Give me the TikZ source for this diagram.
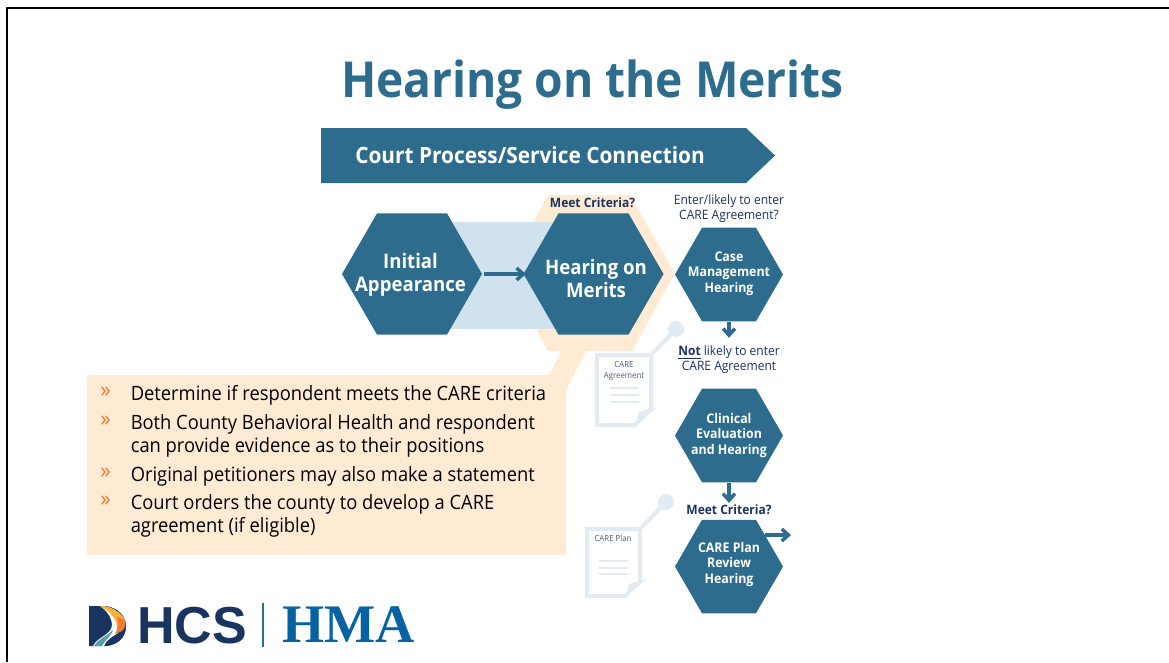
\documentclass[tikz,border=0pt]{standalone}
\usepackage{fontspec}
\setmainfont{Open Sans}[FakeStretch=0.93]
\newfontfamily\logoserif{Liberation Serif}
\newfontfamily\logosans{Liberation Sans}
\usetikzlibrary{arrows.meta,shapes.geometric,positioning}
\definecolor{hmateal}{RGB}{45,108,141}
\definecolor{hmalightblue}{RGB}{207,226,238}
\definecolor{hmapeach}{RGB}{255,235,211}
\definecolor{hmanavy}{RGB}{26,52,96}
\definecolor{hmaorange}{RGB}{237,125,49}
\definecolor{hmayellow}{RGB}{249,178,51}
\definecolor{hmadoc}{RGB}{227,235,242}
\definecolor{hmablue}{RGB}{5,99,164}
\definecolor{hmaswoosh}{RGB}{90,160,175}
\tikzset{
  hexbig/.style={regular polygon, regular polygon sides=6, fill=hmateal, minimum size=105pt, inner sep=0pt},
  hexsmall/.style={regular polygon, regular polygon sides=6, fill=hmateal, minimum size=81pt, inner sep=0pt},
  bigtext/.style={text=white, font=\bfseries\fontsize{15}{17.5}\selectfont, align=center, inner sep=0pt},
  smalltext/.style={text=white, font=\bfseries\fontsize{10}{11.7}\selectfont, align=center, inner sep=0pt},
  asklabel/.style={text=hmanavy, font=\fontsize{9.7}{11.2}\selectfont, align=center, inner sep=0pt},
  askbold/.style={text=hmanavy, font=\bfseries\fontsize{9.7}{11}\selectfont, inner sep=0pt},
  flowarrow/.style={line width=2.6pt, color=hmateal, -{Straight Barb[length=5pt,width=9pt]}},
  docline/.style={line width=1.5pt, color=hmadoc},
  docframe/.style={line width=3pt, color=hmadoc},
  doclabel/.style={text=hmanavy!80, font=\fontsize{6.3}{8.2}\selectfont, align=center, inner sep=0pt},
  bullettext/.style={anchor=west, text=black, font=\fontsize{14.8}{17.2}\selectfont, align=left, inner sep=0pt},
  bulletmark/.style={text=hmaorange, font=\fontsize{17}{17}\selectfont, inner sep=0pt}
}
\begin{document}
\begin{tikzpicture}[x=0.75pt, y=-0.75pt]
    \useasboundingbox (0,0) rectangle (1169,662);
    % Slide frame
    \draw[line width=1.6pt, black] (1169,8) -- (7,8) -- (7,662);

    % Title and banner
    \node[text=hmateal, font=\bfseries\fontsize{37.2}{40}\selectfont, inner sep=0pt] (title) at (592.5,85) {Hearing on the Merits};
    \fill[hmateal] (321,128) -- (746,128) -- (775,155.5) -- (746,183) -- (321,183) -- cycle;
    \node[anchor=west, text=white, font=\bfseries\fontsize{16.8}{18}\selectfont, inner sep=0pt] (bannertext) at (355,155.5) {Court Process/Service Connection};

    % Peach callout behind the merits hearing
    \fill[hmapeach] (87,375) rectangle (566,555);
    \fill[hmapeach] (548,195) -- (630,195) -- (675,273) -- (632,351) -- (548,351) -- (505,273) -- cycle;
    \fill[hmapeach] (549,375) -- (562,350) -- (587,350) -- (566,390) -- (566,375) -- cycle;

    % Light band between the two first hearings
    \fill[hmalightblue] (445,222) rectangle (560,329);

    % Hearings
    \node[hexbig] (initial) at (412,274) {};
    \node[bigtext] (initialtext) at (410.5,274.5) {Initial\\Appearance};
    \node[hexbig] (merits) at (593.5,274) {};
    \node[bigtext] (meritstext) at (596,278.5) {Hearing on\\Merits};
    \node[hexsmall] (casemgmt) at (729,274.5) {};
    \node[smalltext] (casetext) at (729,273.5) {Case\\Management\\Hearing};
    \node[hexsmall] (clinical) at (729,435.5) {};
    \node[smalltext] (clinicaltext) at (729,435.5) {Clinical\\Evaluation\\and Hearing};
    \node[hexsmall] (review) at (729,566.5) {};
    \node[smalltext] (reviewtext) at (729,564.5) {CARE Plan\\Review\\Hearing};

    % Labels
    \node[askbold] (meet1) at (592.5,202.5) {Meet Criteria?};
    \node[asklabel] (enter) at (729,209) {Enter/likely to enter\\CARE Agreement?};
    \node[asklabel] (notlikely) at (729,360) {\underline{\textbf{Not}} likely to enter\\CARE Agreement};
    \node[askbold] (meet2) at (729,509.5) {Meet Criteria?};

    % Connectors
    \coordinate (exitpt) at (791,535);
    \coordinate (exitstart) at (765,535);
    \draw[flowarrow, shorten <=1.5pt, shorten >=-2pt] (initial.east) -- (merits.west);
    \draw[flowarrow, shorten >=6pt] (casemgmt.south) -- (notlikely.north);
    \draw[flowarrow, shorten >=1pt] (clinical.south) -- (meet2.north);
    \draw[flowarrow] (exitstart) -- (exitpt);

    % CARE Agreement page
    \draw[docframe] (651,355) -- (597,355) -- (597,425) -- (635,425) -- (651,408) -- cycle;
    \fill[hmadoc] (635,427) -- (657,407) -- (639,412) -- cycle;
    \draw[docframe] (651,355) -- (676,329);
    \fill[hmadoc] (676,329) circle (8);
    \draw[docline] (610,388) -- (639,388);
    \draw[docline] (610,395) -- (639,395);
    \draw[docline] (610,402) -- (639,402);
    \node[doclabel] (agreedoc) at (624,371) {CARE\\Agreement};

    % CARE Plan page
    \draw[docframe] (640,529) -- (587,529) -- (587,596) -- (625,596) -- (640,581) -- cycle;
    \fill[hmadoc] (625,598) -- (646,579) -- (629,584) -- cycle;
    \draw[docframe] (640,529) -- (666,502);
    \fill[hmadoc] (666,502) circle (8);
    \draw[docline] (599,561) -- (628,561);
    \draw[docline] (599,567.5) -- (628,567.5);
    \draw[docline] (599,574) -- (628,574);
    \node[doclabel] (plandoc) at (613,538) {CARE Plan};

    % Bullets
    \node[bulletmark] (m1) at (105.5,392) {»};
    \node[bullettext] (b1) at (130.5,395) {Determine if respondent meets the CARE criteria};
    \node[bulletmark] (m2) at (105.5,421) {»};
    \node[bullettext] (b2) at (130.5,435.5) {Both County Behavioral Health and respondent\\can provide evidence as to their positions};
    \node[bulletmark] (m3) at (105.5,473) {»};
    \node[bullettext] (b3) at (130.5,476) {Original petitioners may also make a statement};
    \node[bulletmark] (m4) at (105.5,501) {»};
    \node[bullettext] (b4) at (130.5,515.5) {Court orders the county to develop a CARE\\agreement (if eligible)};

    % Logo
    \fill[hmanavy] (89,606) -- (106,606) .. controls (118,608) and (126,616) .. (126,626) .. controls (126,637) and (118,645) .. (106,646) -- (89,646) -- cycle;
    \fill[white] (100,606) .. controls (109,612) and (114,622) .. (111,629) .. controls (107,636) and (97,638) .. (93,646) -- (104,646) .. controls (106,640) and (112,637) .. (118,633) -- (125,622) .. controls (121,612) and (111,606) .. (100,606) -- cycle;
    \fill[hmayellow] (100,606) .. controls (111,606) and (121,612) .. (125,620) -- (117,629) .. controls (118,620) and (110,611) .. (100,606) -- cycle;
    \fill[hmaorange] (117,617) -- (125,620) .. controls (126,624) and (126,628) .. (122,631) -- (115,634) .. controls (118,629) and (119,623) .. (117,617) -- cycle;
    \fill[hmanavy] (126,626) .. controls (124,632) and (117,635) .. (112,638) .. controls (108,641) and (106,643) .. (105,646) .. controls (118,645) and (126,637) .. (126,626) -- cycle;
    \fill[hmaswoosh] (94,646) .. controls (98,639) and (107,636) .. (113,630) .. controls (112,635) and (106,639) .. (102,646) -- cycle;
    \node[anchor=west, text=hmanavy, font=\logosans\bfseries\fontsize{39}{40}\selectfont, inner sep=0pt] (dhcs) at (137,626) {HCS};
    \draw[line width=1.2pt, hmateal] (263,603) -- (263,647);
    \node[anchor=west, text=hmablue, font=\logoserif\bfseries\fontsize{40.7}{44}\selectfont, inner sep=0pt] (hma) at (282,625) {HMA};
\end{tikzpicture}
\end{document}
